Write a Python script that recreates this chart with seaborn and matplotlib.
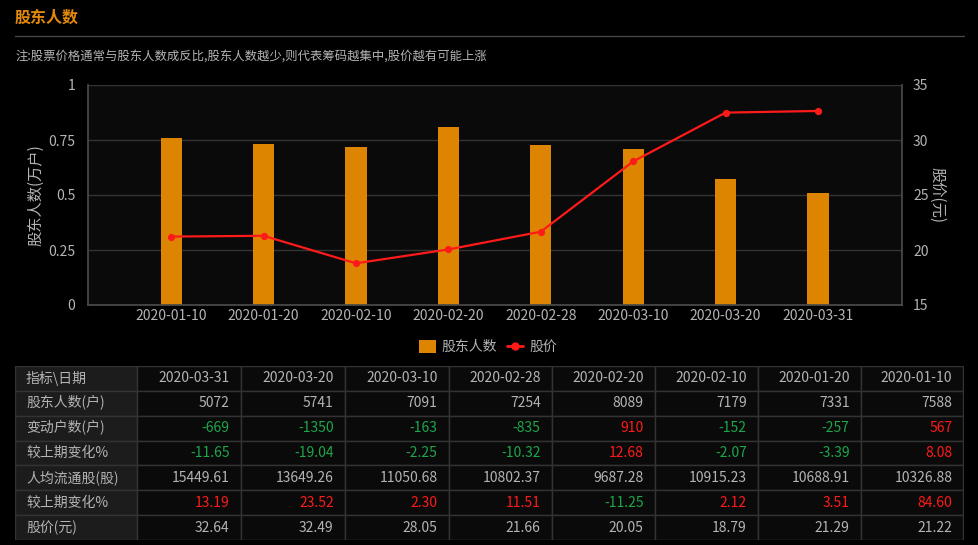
import matplotlib
matplotlib.use("Agg")
import matplotlib.pyplot as plt
import seaborn as sns
import pandas as pd
from matplotlib.patches import Patch, Rectangle
from matplotlib.lines import Line2D

sns.set_theme(style="dark")
plt.rcParams['font.family'] = ['Noto Sans CJK SC', 'DejaVu Sans']
plt.rcParams['axes.unicode_minus'] = False

# ---------------- data ----------------
dates = ['2020-01-10', '2020-01-20', '2020-02-10', '2020-02-20',
         '2020-02-28', '2020-03-10', '2020-03-20', '2020-03-31']
holders = [7588, 7331, 7179, 8089, 7254, 7091, 5741, 5072]
price = [21.22, 21.29, 18.79, 20.05, 21.66, 28.05, 32.49, 32.64]
change_count = [567, -257, -152, 910, -835, -163, -1350, -669]
change_pct = [8.08, -3.39, -2.07, 12.68, -10.32, -2.25, -19.04, -11.65]
per_share = [10326.88, 10688.91, 10915.23, 9687.28, 10802.37, 11050.68, 13649.26, 15449.61]
per_share_pct = [84.60, 3.51, 2.12, -11.25, 11.51, 2.30, 23.52, 13.19]

left_ticks = [0, 0.25, 0.5, 0.75, 1]
left_tick_labels = ['0', '0.25', '0.5', '0.75', '1']
right_ticks = [15, 20, 25, 30, 35]

row_labels = ['股东人数(户)', '变动户数(户)', '较上期变化%', '人均流通股(股)', '较上期变化%', '股价(元)']
title_text = '股东人数'
note_text = '注:股票价格通常与股东人数成反比,股东人数越少,则代表筹码越集中,股价越有可能上涨'

# ---------------- style ----------------
BG = '#000000'
PLOT_BG = '#0a0a0a'
TXT = '#b4b4b4'
GRID = '#333333'
AXIS = '#4a4a4a'
ORANGE = '#dd8500'
RED = '#ff1a1a'
GREEN = '#1da64a'

W, H = 979, 545
fig = plt.figure(figsize=(W / 100, H / 100), dpi=100, facecolor=BG)

def fx(px):
    return px / W

def fy(py):
    return 1 - py / H

# title & note
fig.text(fx(15), fy(18), title_text, color='#e38a0a', fontsize=11.5, fontweight='bold',
         va='center', ha='left')
fig.add_artist(Line2D([fx(15), fx(964)], [fy(36), fy(36)], color='#444444', lw=1))
fig.text(fx(15), fy(56), note_text, color=TXT, fontsize=8.9, va='center', ha='left')

# ---------------- chart ----------------
ax = fig.add_axes([fx(88), fy(305), fx(902) - fx(88), fy(85) - fy(305)])
ax.set_facecolor(PLOT_BG)
df = pd.DataFrame({'date': dates, 'holders': [h / 10000 for h in holders], 'price': price})
sns.barplot(data=df, x='date', y='holders', color=ORANGE, saturation=1, width=0.23,
            ax=ax, order=dates)
for p in ax.patches:
    p.set_edgecolor('none')
ax.set_ylim(0, 1)
ax.set_yticks(left_ticks)
ax.set_yticklabels(left_tick_labels)
ax.set_xlim(-0.9, 7.91)
ax.grid(axis='y', color=GRID, lw=1)
ax.grid(axis='x', visible=False)
ax.set_axisbelow(True)
for s in ['left', 'bottom']:
    ax.spines[s].set_visible(True)
    ax.spines[s].set_color(AXIS)
ax.spines['top'].set_visible(False)
ax.spines['right'].set_visible(False)
ax.tick_params(axis='both', colors=TXT, labelsize=10, length=0)
ax.tick_params(axis='y', pad=9)
ax.tick_params(axis='x', pad=3)
ax.set_xlabel('')
ax.set_ylabel('股东人数(万户)', color=TXT, fontsize=11, labelpad=3)

ax2 = ax.twinx()
sns.pointplot(data=df, x='date', y='price', color=RED, order=dates, ax=ax2,
              markers='o', markersize=4, linewidth=1.6, errorbar=None)
ax2.set_ylim(15, 35)
ax2.set_yticks(right_ticks)
ax2.set_xlim(-0.9, 7.91)
ax2.grid(False)
for s in ['top', 'left', 'bottom']:
    ax2.spines[s].set_visible(False)
ax2.spines['right'].set_visible(True)
ax2.spines['right'].set_color(AXIS)
ax2.tick_params(axis='y', colors=TXT, labelsize=10, length=0, pad=8)
ax2.set_ylabel('股价(元)', color=TXT, fontsize=11, rotation=270, labelpad=12)
ax2.set_xlabel('')

# legend
handles = [Patch(facecolor=ORANGE, edgecolor='none', label='股东人数'),
           Line2D([0], [0], color=RED, lw=2, marker='o', markersize=5, label='股价')]
fig.legend(handles=handles, loc='center', bbox_to_anchor=(fx(488), fy(347)), ncol=2,
           frameon=False, fontsize=10, labelcolor=TXT, handlelength=1.2, handleheight=1.1,
           handletextpad=0.4, columnspacing=0.7)

# ---------------- table ----------------
tx0, tx1, ty0, ty1 = 15, 964, 365.7, 540.3
tab = fig.add_axes([fx(tx0), fy(ty1), fx(tx1) - fx(tx0), fy(ty0) - fy(ty1)])
tab.set_xlim(tx0, tx1)
tab.set_ylim(ty1, ty0)
tab.axis('off')
col_edges = [15, 136.7, 240.7, 344.7, 448.7, 551.7, 654.7, 757.7, 860.7, 963.3]
nrows = 7
row_h = (ty1 - ty0) / nrows
for r in range(nrows):
    for c in range(len(col_edges) - 1):
        fc = '#1c1c1c' if c == 0 else '#0a0a0a'
        tab.add_patch(Rectangle((col_edges[c], ty0 + r * row_h), col_edges[c + 1] - col_edges[c],
                                row_h, facecolor=fc, edgecolor='#333333', lw=1))

def sign_color(v):
    return RED if v > 0 else (GREEN if v < 0 else TXT)

rev = list(range(len(dates)))[::-1]
header = ['指标\\日期'] + [dates[i] for i in rev]
rows = [
    [(f'{holders[i]}', TXT) for i in rev],
    [(f'{change_count[i]}', sign_color(change_count[i])) for i in rev],
    [(f'{change_pct[i]:.2f}', sign_color(change_pct[i])) for i in rev],
    [(f'{per_share[i]:.2f}', TXT) for i in rev],
    [(f'{per_share_pct[i]:.2f}', sign_color(per_share_pct[i])) for i in rev],
    [(f'{price[i]:.2f}', TXT) for i in rev],
]
fs = 10
cy = ty0 + row_h / 2
tab.text(26, cy, header[0], color=TXT, fontsize=fs, ha='left', va='center')
for c in range(1, len(header)):
    tab.text(col_edges[c + 1] - 11, cy, header[c], color=TXT, fontsize=fs, ha='right', va='center')
for r, row in enumerate(rows):
    cy = ty0 + (r + 1.5) * row_h
    tab.text(26, cy, row_labels[r], color=TXT, fontsize=fs, ha='left', va='center')
    for c, (s, col) in enumerate(row):
        tab.text(col_edges[c + 2] - 11, cy, s, color=col, fontsize=fs, ha='right', va='center')

fig.savefig('out.png', dpi=100, facecolor=BG)
